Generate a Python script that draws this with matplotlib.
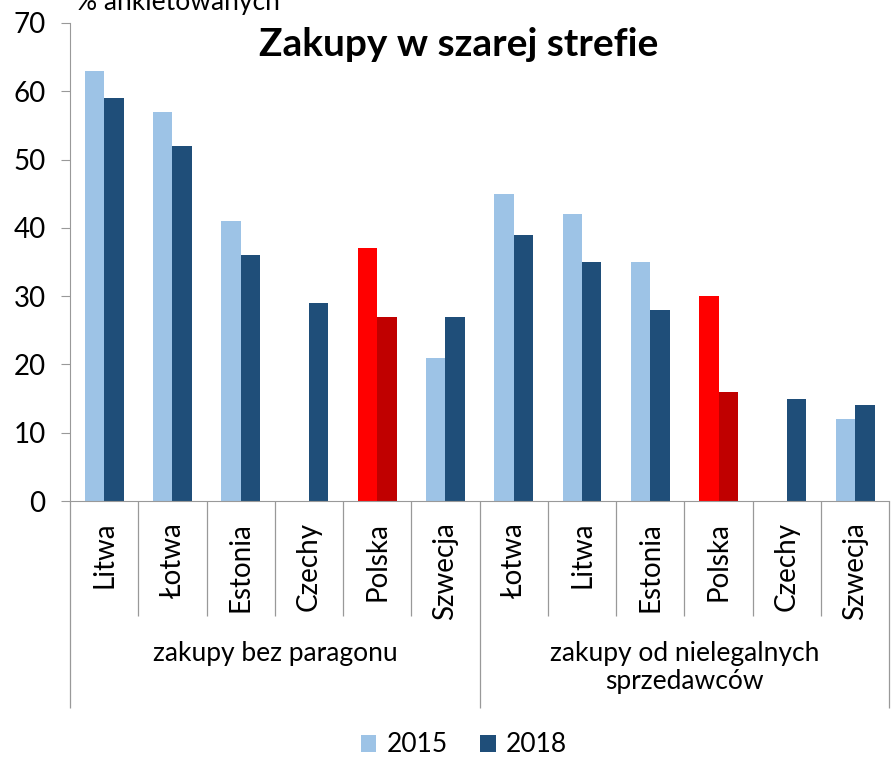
import numpy as np
import matplotlib as mpl
mpl.use('Agg')
import matplotlib.pyplot as plt

plt.rcParams['font.family'] = ['Lato', 'DejaVu Sans']

# data
groups = ['zakupy bez paragonu', 'zakupy od nielegalnych\nsprzedawców']
countries = ['Litwa', 'Łotwa', 'Estonia', 'Czechy', 'Polska', 'Szwecja',
             'Łotwa', 'Litwa', 'Estonia', 'Polska', 'Czechy', 'Szwecja']
v2015 = [63, 57, 41, np.nan, 37, 21, 45, 42, 35, 30, np.nan, 12]
v2018 = [59, 52, 36, 29, 27, 27, 39, 35, 28, 16, 15, 14]
years = ['2015', '2018']

c15 = '#9DC3E6'
c18 = '#1F4E79'
c15_pl = '#FF0000'
c18_pl = '#C00000'

fig = plt.figure(figsize=(8.91, 7.58), dpi=100)
ax = fig.add_axes([0.0786, 0.339, 0.9194, 0.6307])

x = np.arange(len(countries)) + 0.5
w = 0.285
cols15 = [c15_pl if c == 'Polska' else c15 for c in countries]
cols18 = [c18_pl if c == 'Polska' else c18 for c in countries]
ax.bar(x - w / 2, v2015, w, color=cols15, label=years[0])
ax.bar(x + w / 2, v2018, w, color=cols18, label=years[1])

ax.set_xlim(0, len(countries))
ax.set_ylim(0, 70)
ax.set_yticks(range(0, 71, 10))
ax.tick_params(axis='y', labelsize=20, length=6.5, color='#999999', pad=11)

for s in ['top', 'right']:
    ax.spines[s].set_visible(False)
for s in ['left', 'bottom']:
    ax.spines[s].set_color('#999999')

# category separators
ax.set_xticks([0, 6, 12])
ax.set_xticklabels([])
ax.set_xticks([1, 2, 3, 4, 5, 7, 8, 9, 10, 11], minor=True)
ax.tick_params(axis='x', which='major', length=149, color='#999999', width=0.9)
ax.tick_params(axis='x', which='minor', length=83, color='#999999', width=0.9)

for xi, name in zip(x, countries):
    ax.annotate(name, xy=(xi, 0), xycoords=('data', 'axes fraction'),
                xytext=(0, -15), textcoords='offset points',
                rotation=90, ha='center', va='top', fontsize=20)

for gi, g in enumerate(groups):
    ax.annotate(g, xy=(gi * 6 + 3, 0), xycoords=('data', 'axes fraction'),
                xytext=(0, -101), textcoords='offset points',
                ha='center', va='top', fontsize=19, linespacing=1.15)

fig.text(459 / 891, 1 - 45 / 758, 'Zakupy w szarej strefie', ha='center',
         va='center', fontsize=28, fontweight='bold')
fig.text(178 / 891, 1 - 10 / 758, '% ankietowanych', ha='center',
         va='baseline', fontsize=19)

fig.legend(loc='center', bbox_to_anchor=(464 / 891, 1 - 745 / 758), ncol=2,
           frameon=False, fontsize=19, handlelength=0.6, handleheight=0.6,
           handletextpad=0.4, columnspacing=1.2)

fig.savefig('out.png', dpi=100)
